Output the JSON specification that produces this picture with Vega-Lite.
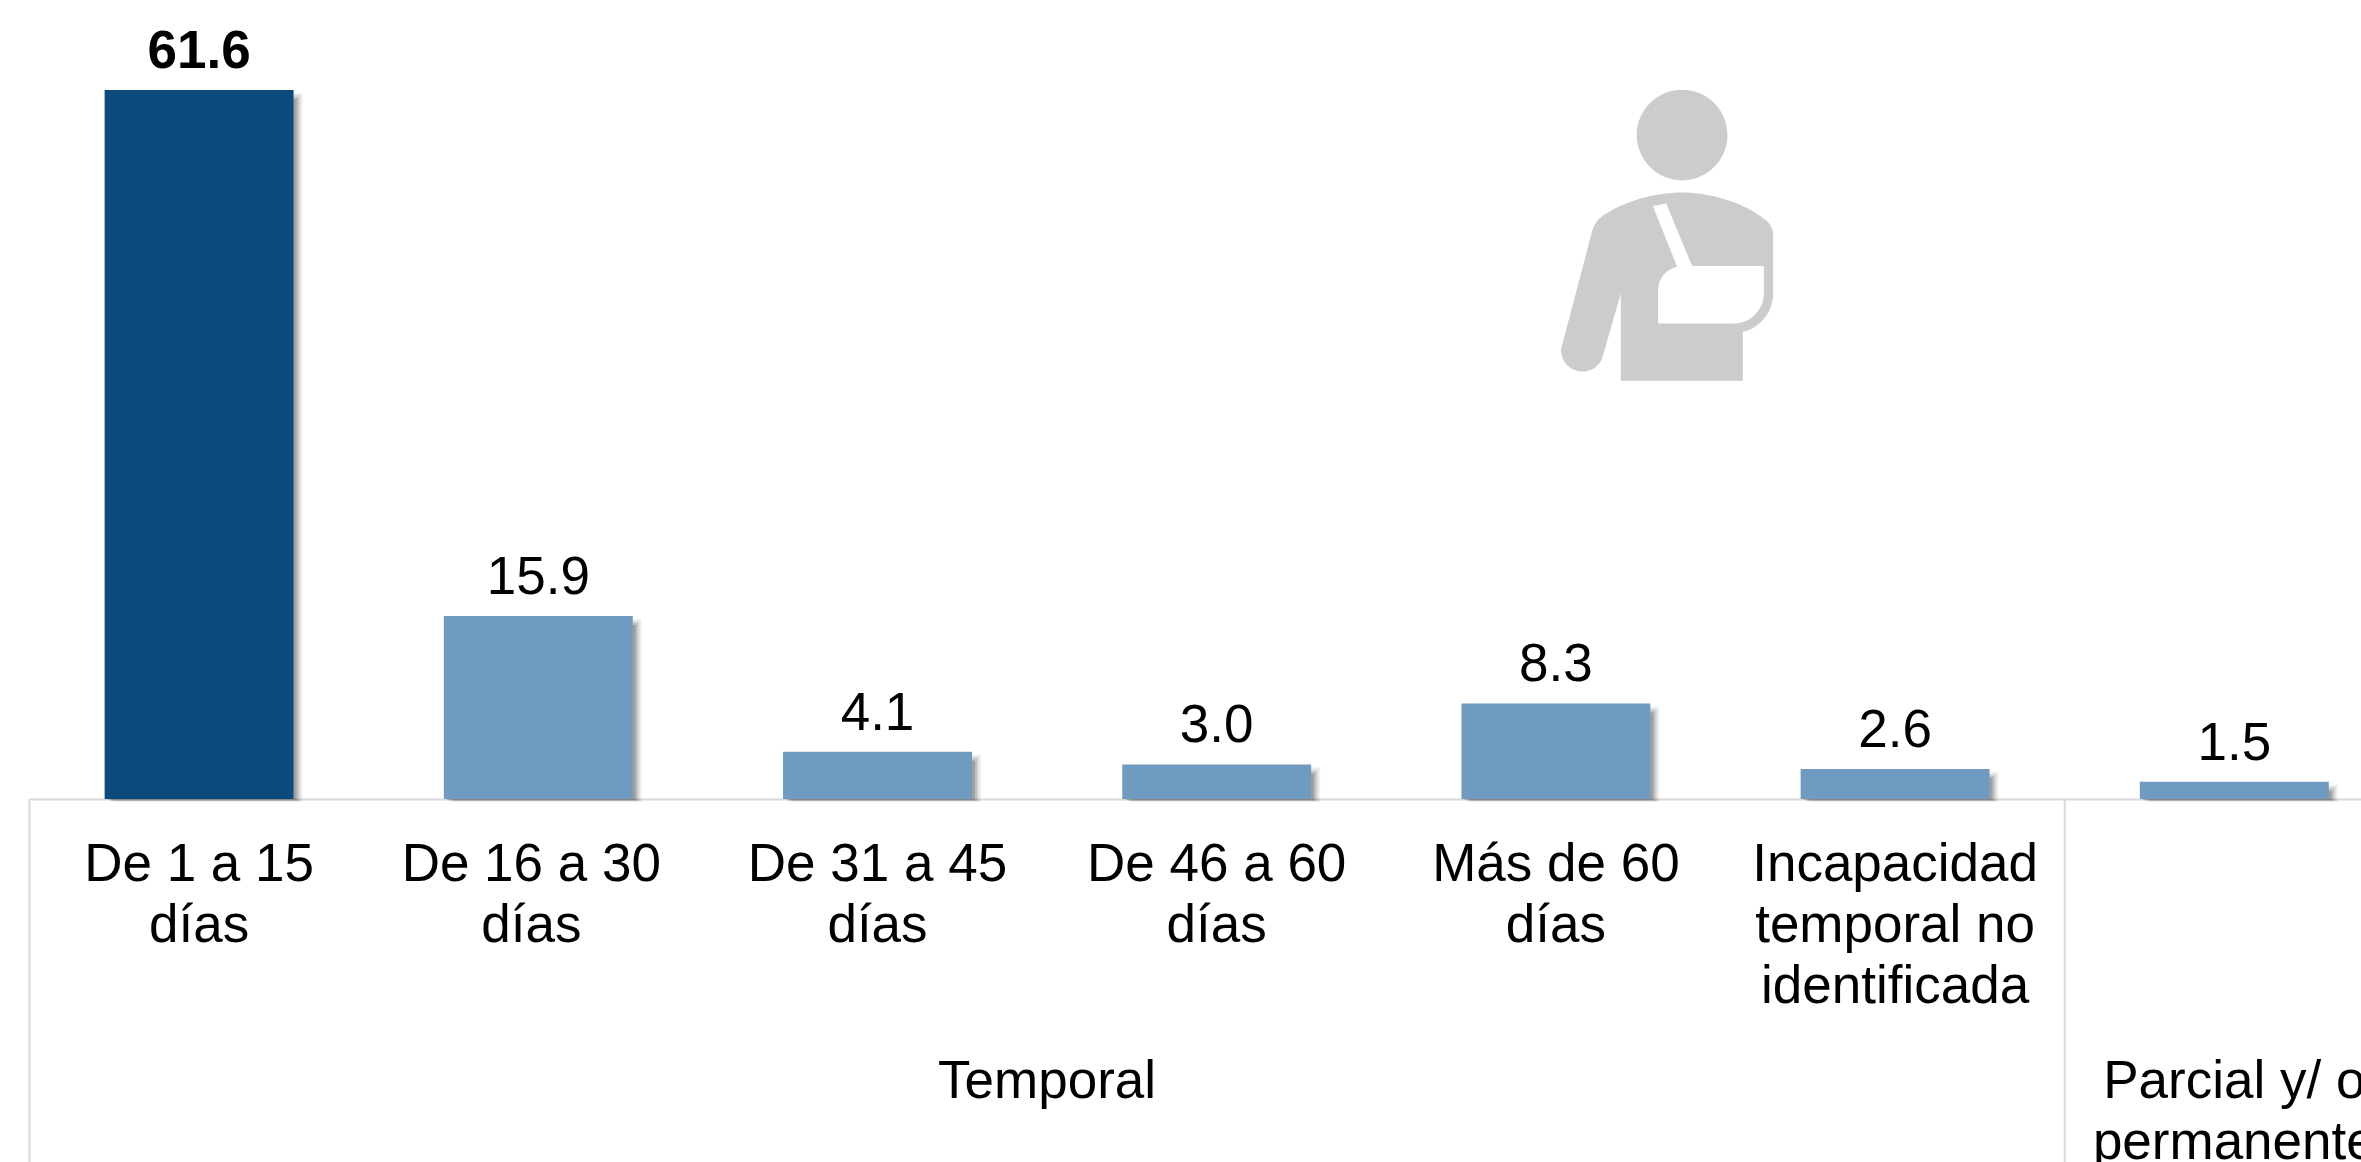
{"$schema":"https://vega.github.io/schema/vega-lite/v6.json","width":2332,"height":1162,"autosize":{"type":"none"},"padding":{"left":29,"top":0,"right":0,"bottom":0},"background":"white","view":{"stroke":null},"datasets":{"barras":[{"cat":"De 1 a 15\ndías","valor":61.6,"tipo":"Temporal","dest":"si"},{"cat":"De 16 a 30\ndías","valor":15.9,"tipo":"Temporal","dest":"no"},{"cat":"De 31 a 45\ndías","valor":4.1,"tipo":"Temporal","dest":"no"},{"cat":"De 46 a 60\ndías","valor":3.0,"tipo":"Temporal","dest":"no"},{"cat":"Más de 60\ndías","valor":8.3,"tipo":"Temporal","dest":"no"},{"cat":"Incapacidad\ntemporal no\nidentificada","valor":2.6,"tipo":"Temporal","dest":"no"},{"cat":"Parcial y/ o permanente","valor":1.5,"tipo":"Parcial y/ o permanente","dest":"no"}]},"data":{"name":"barras"},"layer":[{"mark":{"type":"bar","width":{"band":0.557},"fill":"#000000","opacity":0.06,"xOffset":9,"yOffset":3,"y2Offset":3},"encoding":{"x":{"field":"cat","type":"nominal","sort":null,"scale":{"type":"band","paddingInner":0,"paddingOuter":0,"range":[0.5,2374.9],"domain":["De 1 a 15\ndías","De 16 a 30\ndías","De 31 a 45\ndías","De 46 a 60\ndías","Más de 60\ndías","Incapacidad\ntemporal no\nidentificada","Parcial y/ o permanente"]},"axis":{"title":null,"orient":"bottom","offset":-363,"ticks":false,"domain":true,"domainColor":"#d9d9d9","domainWidth":2,"labelExpr":"datum.label=='Parcial y/ o permanente'?'':split(datum.label,'\\n')","labelFont":"Liberation Sans","labelFontSize":53,"labelLineHeight":61,"labelColor":"#000000","labelAngle":0,"labelLimit":1000,"labelOverlap":false,"labelPadding":39,"labelBound":false,"labelFlush":false,"labelOffset":{"condition":{"test":"indexof(datum.label,'De 16')==0","value":-7},"value":0}}},"y":{"field":"valor","type":"quantitative","scale":{"domain":[-31.54,69.42],"nice":false,"zero":false},"axis":null},"y2":{"datum":0}}},{"mark":{"type":"bar","width":{"band":0.557},"fill":"#000000","opacity":0.09,"xOffset":7,"yOffset":5,"y2Offset":2},"encoding":{"x":{"field":"cat","type":"nominal"},"y":{"field":"valor","type":"quantitative"},"y2":{"datum":0}}},{"mark":{"type":"bar","width":{"band":0.557},"fill":"#000000","opacity":0.12,"xOffset":5,"yOffset":7,"y2Offset":2},"encoding":{"x":{"field":"cat","type":"nominal"},"y":{"field":"valor","type":"quantitative"},"y2":{"datum":0}}},{"mark":{"type":"bar","width":{"band":0.557},"fill":"#000000","opacity":0.16,"xOffset":3,"yOffset":9,"y2Offset":1},"encoding":{"x":{"field":"cat","type":"nominal"},"y":{"field":"valor","type":"quantitative"},"y2":{"datum":0}}},{"mark":{"type":"bar","width":{"band":0.557}},"encoding":{"x":{"field":"cat","type":"nominal"},"y":{"field":"valor","type":"quantitative"},"y2":{"datum":0},"color":{"field":"dest","type":"nominal","legend":null,"scale":{"domain":["si","no"],"range":["#0a4a7d","#6f9bc1"]}}}},{"transform":[{"filter":"datum.dest=='no'"}],"mark":{"type":"text","font":"Liberation Sans","fontSize":53,"color":"#000000","baseline":"alphabetic","dy":-22},"encoding":{"x":{"field":"cat","type":"nominal"},"y":{"field":"valor","type":"quantitative"},"text":{"field":"valor","type":"quantitative","format":".1f"}}},{"transform":[{"filter":"datum.dest=='si'"}],"mark":{"type":"text","font":"Liberation Sans","fontSize":53,"fontWeight":"bold","color":"#000000","baseline":"alphabetic","dy":-22},"encoding":{"x":{"field":"cat","type":"nominal"},"y":{"field":"valor","type":"quantitative"},"text":{"field":"valor","type":"quantitative","format":".1f"}}},{"data":{"values":[{"cat":"De 1 a 15\ndías"},{"cat":"Parcial y/ o permanente"}]},"mark":{"type":"rule","color":"#d9d9d9","strokeWidth":2},"encoding":{"x":{"field":"cat","type":"nominal","bandPosition":0},"y":{"datum":0},"y2":{"datum":-31.54}}},{"data":{"values":[{"cat":"De 46 a 60\ndías","grupo":"Temporal"}]},"mark":{"type":"text","font":"Liberation Sans","fontSize":53,"color":"#000000","baseline":"alphabetic"},"encoding":{"x":{"field":"cat","type":"nominal","bandPosition":0},"y":{"datum":-25.95},"text":{"field":"grupo"}}},{"data":{"values":[{"cat":"Parcial y/ o permanente","linea":"Parcial y/ o"}]},"mark":{"type":"text","font":"Liberation Sans","fontSize":53,"color":"#000000","baseline":"alphabetic"},"encoding":{"x":{"field":"cat","type":"nominal","bandPosition":0.5},"y":{"datum":-25.95},"text":{"field":"linea"}}},{"data":{"values":[{"cat":"Parcial y/ o permanente","linea":"permanente"}]},"mark":{"type":"text","font":"Liberation Sans","fontSize":53,"color":"#000000","baseline":"alphabetic"},"encoding":{"x":{"field":"cat","type":"nominal","bandPosition":0.5},"y":{"datum":-31.25},"text":{"field":"linea"}}},{"data":{"values":[{"cat":"Más de 60\ndías","icono":"persona"}]},"mark":{"type":"point","filled":true,"fill":"#cccccc","stroke":null,"opacity":1,"size":90000,"shape":"M0.1044 -0.9655 A0.3022 0.3022 0 1 1 0.1044 -0.3611 A0.3022 0.3022 0 1 1 0.1044 -0.9655 Z M-0.44 -0.1144 C-0.30 -0.22 -0.08 -0.2811 0.1044 -0.2811 C0.29 -0.2811 0.50 -0.22 0.6489 -0.1078 C0.69 -0.08 0.7111 -0.04 0.7111 0.0033 L0.7111 0.3922 C0.7111 0.52 0.62 0.625 0.5089 0.6478 L0.5089 0.9744 L-0.3044 0.9744 L-0.3044 0.3922 L-0.4289 0.8256 A0.1422 0.1422 0 0 1 -0.7022 0.7611 L-0.5022 0.0033 C-0.49 -0.05 -0.47 -0.09 -0.44 -0.1144 Z"},"encoding":{"x":{"field":"cat","type":"nominal","bandPosition":0.826},"y":{"datum":49.04}}},{"data":{"values":[{"cat":"Más de 60\ndías","icono":"cabestrillo"}]},"mark":{"type":"point","filled":true,"fill":"#ffffff","stroke":null,"opacity":1,"size":90000,"shape":"M-0.0911 -0.19 L-0.0022 -0.2078 L0.1711 0.21 L0.6489 0.21 L0.6489 0.3922 C0.6489 0.50 0.56 0.5922 0.4556 0.5922 L-0.0556 0.5922 L-0.0556 0.37 C-0.0556 0.29 0 0.23 0.0711 0.2144 Z"},"encoding":{"x":{"field":"cat","type":"nominal","bandPosition":0.826},"y":{"datum":49.04}}}]}
